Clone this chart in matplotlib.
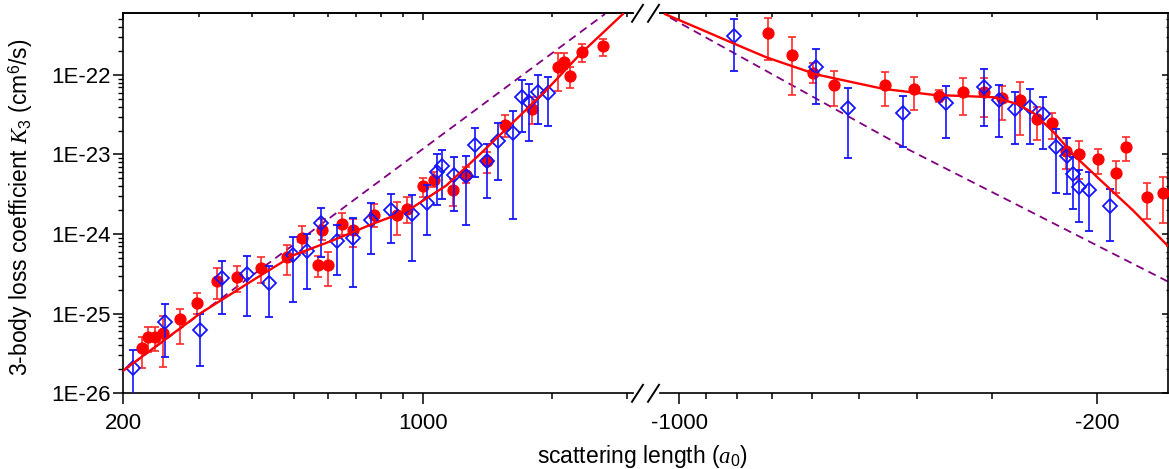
import matplotlib
matplotlib.use("Agg")
import numpy as np
import matplotlib.pyplot as plt
from matplotlib.ticker import FixedLocator, FixedFormatter, NullFormatter, LogLocator
from matplotlib.lines import Line2D

plt.rcParams['font.family'] = ['Liberation Sans', 'DejaVu Sans']
plt.rcParams['mathtext.fontset'] = 'custom'
plt.rcParams['mathtext.rm'] = 'Liberation Sans'
plt.rcParams['mathtext.it'] = 'Liberation Serif:italic'

# positive scattering length, red circles
red_pos_a = [221, 229, 238, 248, 272, 298, 331, 369, 420, 483, 522, 569, 583, 600, 647, 689,
             770, 869, 920, 1000, 1062, 1174, 1261, 1414, 1554, 1800, 2068, 2136, 2203, 2353, 2625]
red_pos_k = [3.66e-26, 5.1e-26, 5.1e-26, 5.8e-26, 8.5e-26, 1.35e-25, 2.58e-25, 2.9e-25, 3.8e-25,
             5.16e-25, 9.0e-25, 4.06e-25, 1.12e-24, 4.06e-25, 1.33e-24, 1.14e-24, 1.76e-24,
             1.72e-24, 2.09e-24, 4.0e-24, 4.82e-24, 3.61e-24, 5.46e-24, 8.26e-24, 2.36e-23,
             3.75e-23, 1.27e-22, 1.47e-22, 9.8e-23, 1.96e-22, 2.29e-22]
red_pos_hi = [5.1e-26, 6.8e-26, 6.8e-26, 9.4e-26, 1.16e-25, 1.8e-25, 3.7e-25, 3.98e-25, 5.16e-25,
              7.4e-25, 1.25e-24, 5.27e-25, 1.56e-24, 5.97e-25, 1.86e-24, 1.56e-24, 2.41e-24,
              2.53e-24, 2.92e-24, 5.06e-24, 6.0e-24, 4.97e-24, 6.9e-24, 1.07e-23, 3.15e-23,
              5.3e-23, 1.88e-22, 1.88e-22, 1.25e-22, 2.45e-22, 2.83e-22]
red_pos_lo = [2.1e-26, 3.3e-26, 3.4e-26, 2.16e-26, 4.15e-26, 9.9e-26, 1.51e-25, 1.85e-25, 2.44e-25,
              3.04e-25, 5.86e-25, 2.9e-25, 8.5e-25, 2.21e-25, 9.66e-25, 6.9e-25, 1.23e-24,
              9.66e-25, 1.36e-24, 2.92e-24, 3.9e-24, 2.25e-24, 4.37e-24, 5.83e-24, 1.65e-23,
              2.4e-23, 6.3e-23, 1.19e-22, 6.8e-23, 1.44e-22, 1.75e-22]

# positive scattering length, blue diamonds
blue_pos_a = [211, 250, 302, 340, 389, 439, 499, 536, 579, 630, 689, 757, 842, 945, 1024, 1080,
              1110, 1182, 1261, 1323, 1414, 1499, 1625, 1700, 1770, 1859, 1961]
blue_pos_k = [2.1e-26, 7.9e-26, 6.2e-26, 2.82e-25, 3.13e-25, 2.44e-25, 5.42e-25, 6.14e-25,
              1.38e-24, 8.12e-25, 9.0e-25, 1.52e-24, 1.99e-24, 1.81e-24, 2.45e-24, 6.0e-24,
              7.15e-24, 5.57e-24, 5.3e-24, 1.32e-23, 8.2e-24, 1.47e-23, 1.85e-23, 5.35e-23,
              4.62e-23, 6.18e-23, 5.87e-23]
blue_pos_hi = [3.5e-26, 1.31e-25, 1.0e-25, 4.6e-25, 5.27e-25, 3.98e-25, 9.2e-25, 1.01e-24,
               2.15e-24, 1.29e-24, 1.59e-24, 2.45e-24, 3.22e-24, 3.13e-24, 4.09e-24, 1.0e-23,
               1.15e-23, 9.27e-24, 9.46e-24, 2.14e-23, 1.34e-23, 2.47e-23, 3.5e-23, 8.7e-23,
               7.7e-23, 1.0e-22, 9.5e-23]
blue_pos_lo = [8e-27, 2.88e-26, 2.22e-26, 1.0e-25, 9.3e-26, 9.1e-26, 1.41e-25, 2.07e-25,
               5.16e-25, 3.04e-25, 2.17e-25, 5.7e-25, 7.7e-25, 4.56e-25, 9.66e-25, 2.3e-24,
               2.79e-24, 1.95e-24, 1.31e-24, 5.2e-24, 2.87e-24, 4.73e-24, 1.56e-24, 1.94e-23,
               1.46e-23, 2.43e-23, 2.25e-23]

# negative scattering length, red circles
red_neg_a = [-709, -646, -596, -551, -453, -405, -367, -335, -309, -288, -269, -252, -238, -225,
             -214, -199, -186, -179, -165, -155]
red_neg_k = [3.33e-22, 1.78e-22, 1.05e-22, 7.55e-23, 7.5e-23, 6.67e-23, 5.5e-23, 6.18e-23,
             6.18e-23, 5.09e-23, 4.9e-23, 2.8e-23, 2.47e-23, 1.12e-23, 1.02e-23, 8.67e-24,
             5.83e-24, 1.24e-23, 2.92e-24, 3.27e-24]
red_neg_hi = [5.19e-22, 2.96e-22, 1.4e-22, 1.11e-22, 1.09e-22, 9.5e-23, 6.5e-23, 9.05e-23,
              9.1e-23, 7.35e-23, 8.07e-23, 3.93e-23, 3.34e-23, 1.62e-23, 1.47e-23, 1.16e-23,
              8.2e-24, 1.65e-23, 4.37e-24, 5.2e-24]
red_neg_lo = [1.54e-22, 5.66e-23, 7.8e-23, 4.12e-23, 4.12e-23, 3.67e-23, 4.53e-23, 3.09e-23,
              3.0e-23, 2.68e-23, 1.78e-23, 1.5e-23, 1.58e-23, 6.6e-24, 4.97e-24, 5.74e-24,
              3.31e-24, 8.26e-24, 1.56e-24, 1.39e-24]

# negative scattering length, blue diamonds
blue_neg_a = [-808, -590, -521, -422, -357, -309, -291, -274, -259, -246, -234, -224, -219, -214,
              -206, -190]
blue_neg_k = [3.11e-22, 1.27e-22, 3.81e-23, 3.34e-23, 4.46e-23, 7.0e-23, 4.77e-23, 3.75e-23,
              4.0e-23, 3.24e-23, 1.24e-23, 9.5e-24, 5.62e-24, 3.9e-24, 3.54e-24, 2.23e-24]
blue_neg_hi = [5.03e-22, 2.12e-22, 6.8e-23, 5.39e-23, 7.19e-23, 1.19e-22, 7.5e-23, 6.05e-23,
               6.67e-23, 5.23e-23, 2.1e-23, 1.6e-23, 9.27e-24, 6.3e-24, 6.0e-24, 3.65e-24]
blue_neg_lo = [1.11e-22, 4.33e-23, 9.1e-24, 1.24e-23, 1.62e-23, 2.25e-23, 1.68e-23, 1.36e-23,
               1.36e-23, 1.16e-23, 3.27e-24, 3.17e-24, 2.09e-24, 1.42e-24, 1.08e-24, 8.1e-25]

# theory curves
fit_pos_a = [200, 302, 402, 499, 618, 768, 885, 950, 1135, 1362, 1625, 1944, 2328, 2927]
fit_pos_k = [1.92e-26, 1.0e-25, 2.64e-25, 5.42e-25, 8.36e-25, 1.36e-24, 1.81e-24, 2.19e-24,
             4.09e-24, 1.02e-23, 2.55e-23, 6.49e-23, 1.83e-22, 5.82e-22]
fit_neg_a = [-1055, -922, -811, -714, -588, -455, -375, -298, -272, -255, -236, -219, -197,
             -174, -151.5]
fit_neg_k = [5.8e-22, 3.77e-22, 2.49e-22, 1.66e-22, 1.01e-22, 6.67e-23, 5.61e-23, 5.24e-23,
             4.33e-23, 3.3e-23, 1.9e-23, 1.0e-23, 4.73e-24, 1.99e-24, 6.9e-25]
dash_pos_a = [200, 2658]
dash_pos_k = [1.9e-26, 5.82e-22]
dash_neg_a = [-1035, -421, -151.5]
dash_neg_k = [5.24e-22, 1.24e-23, 2.5e-25]

ytick_vals = [1e-26, 1e-25, 1e-24, 1e-23, 1e-22]
ytick_text = ['1E-26', '1E-25', '1E-24', '1E-23', '1E-22']

RED = '#ff0000'
BLUE = '#1414ff'
PURPLE = '#800080'

W, H = 1169, 469
fig = plt.figure(figsize=(W / 100, H / 100), dpi=100)


def fx(px):
    return px / W


def fy(py):
    return 1 - py / H


axL = fig.add_axes([fx(123), fy(393.3), (633 - 123) / W, 380 / H])
axR = fig.add_axes([fx(660), fy(393.3), (1168 - 660) / W, 380 / H])


def errs(k, lo, hi):
    k = np.array(k)
    return [k - np.array(lo), np.array(hi) - k]


def draw(ax, ra, rk, rlo, rhi, ba, bk, blo, bhi, fa, fk, da, dk):
    ax.errorbar(np.abs(ra), rk, yerr=errs(rk, rlo, rhi), fmt='o', color=RED, ms=7.8,
                ecolor='#ff2a2a', elinewidth=1.2, capsize=3, capthick=1.2, zorder=3)
    ax.errorbar(np.abs(ba), bk, yerr=errs(bk, blo, bhi), fmt='D', color=BLUE, mfc='none',
                mec=BLUE, mew=1.3, ms=6.8, elinewidth=1.2, capsize=3, capthick=1.2, zorder=4)
    ax.plot(np.abs(fa), fk, color=RED, lw=1.7, zorder=5)
    ax.plot(np.abs(da), dk, color=PURPLE, lw=1.3, ls=(0, (4.5, 3)), zorder=2)
    ax.set_xscale('log')
    ax.set_yscale('log')
    ax.set_ylim(1e-26, 5.94e-22)
    for s in ax.spines.values():
        s.set_linewidth(1.2)


draw(axL, red_pos_a, red_pos_k, red_pos_lo, red_pos_hi, blue_pos_a, blue_pos_k, blue_pos_lo,
     blue_pos_hi, fit_pos_a, fit_pos_k, dash_pos_a, dash_pos_k)
draw(axR, red_neg_a, red_neg_k, red_neg_lo, red_neg_hi, blue_neg_a, blue_neg_k, blue_neg_lo,
     blue_neg_hi, fit_neg_a, fit_neg_k, dash_neg_a, dash_neg_k)

axL.set_xlim(200, 3090)
axR.set_xlim(1076, 152)

# x ticks
xsets = [
    (axL, [200, 1000], ['200', '1000'], [300, 400, 500, 600, 700, 800, 900, 2000, 3000]),
    (axR, [1000, 200], ['-1000', '-200'], [900, 800, 700, 600, 500, 400, 300]),
]
for ax, maj, lab, mnr in xsets:
    ax.xaxis.set_major_locator(FixedLocator(maj))
    ax.xaxis.set_major_formatter(FixedFormatter(lab))
    ax.xaxis.set_minor_locator(FixedLocator(mnr))
    ax.xaxis.set_minor_formatter(NullFormatter())
    ax.tick_params(axis='x', which='major', direction='out', length=8, width=1.1,
                   labelsize=16, pad=6, top=False)
    ax.tick_params(axis='x', which='minor', direction='out', length=4, width=1.1, top=False)
    sec = ax.secondary_xaxis('top')
    sec.xaxis.set_major_locator(FixedLocator(maj))
    sec.xaxis.set_minor_locator(FixedLocator(mnr))
    sec.xaxis.set_major_formatter(NullFormatter())
    sec.xaxis.set_minor_formatter(NullFormatter())
    sec.tick_params(axis='x', which='major', direction='in', length=5, width=1.1)
    sec.tick_params(axis='x', which='minor', direction='in', length=3, width=1.1)
    sec.spines['top'].set_linewidth(1.2)

# y ticks
for ax in (axL, axR):
    ax.yaxis.set_major_locator(FixedLocator(ytick_vals))
    ax.yaxis.set_major_formatter(FixedFormatter(ytick_text))
    ax.yaxis.set_minor_locator(LogLocator(base=10, subs=np.arange(2, 10)))
    ax.yaxis.set_minor_formatter(NullFormatter())

axL.spines['right'].set_visible(False)
axL.tick_params(axis='y', which='major', direction='out', length=7, width=1.1, labelsize=16,
                pad=2, right=False)
axL.tick_params(axis='y', which='minor', direction='out', length=3.6, width=1.0, right=False)

axR.spines['left'].set_visible(False)
axR.tick_params(axis='y', which='both', left=False, labelleft=False, right=True,
                labelright=False, direction='in')
axR.tick_params(axis='y', which='major', length=4, width=1.1)
axR.tick_params(axis='y', which='minor', length=1.8, width=1.0)

# axis break marks
for yc in (13.3, 393.3):
    for xc in (637.5, 653.5):
        fig.add_artist(Line2D([fx(xc - 5.5), fx(xc + 5.5)], [fy(yc + 8.5), fy(yc - 8.5)],
                              color='black', lw=1.4, transform=fig.transFigure))

fig.text(fx(21), fy(207), '3-body loss coefficient $K_3$ (cm$^6$/s)', rotation=90,
         ha='center', va='center', fontsize=16.5)
fig.text(fx(642), fy(456), 'scattering length ($a_0$)', ha='center', va='center',
         fontsize=16.5)

fig.savefig('out.png', dpi=100)
